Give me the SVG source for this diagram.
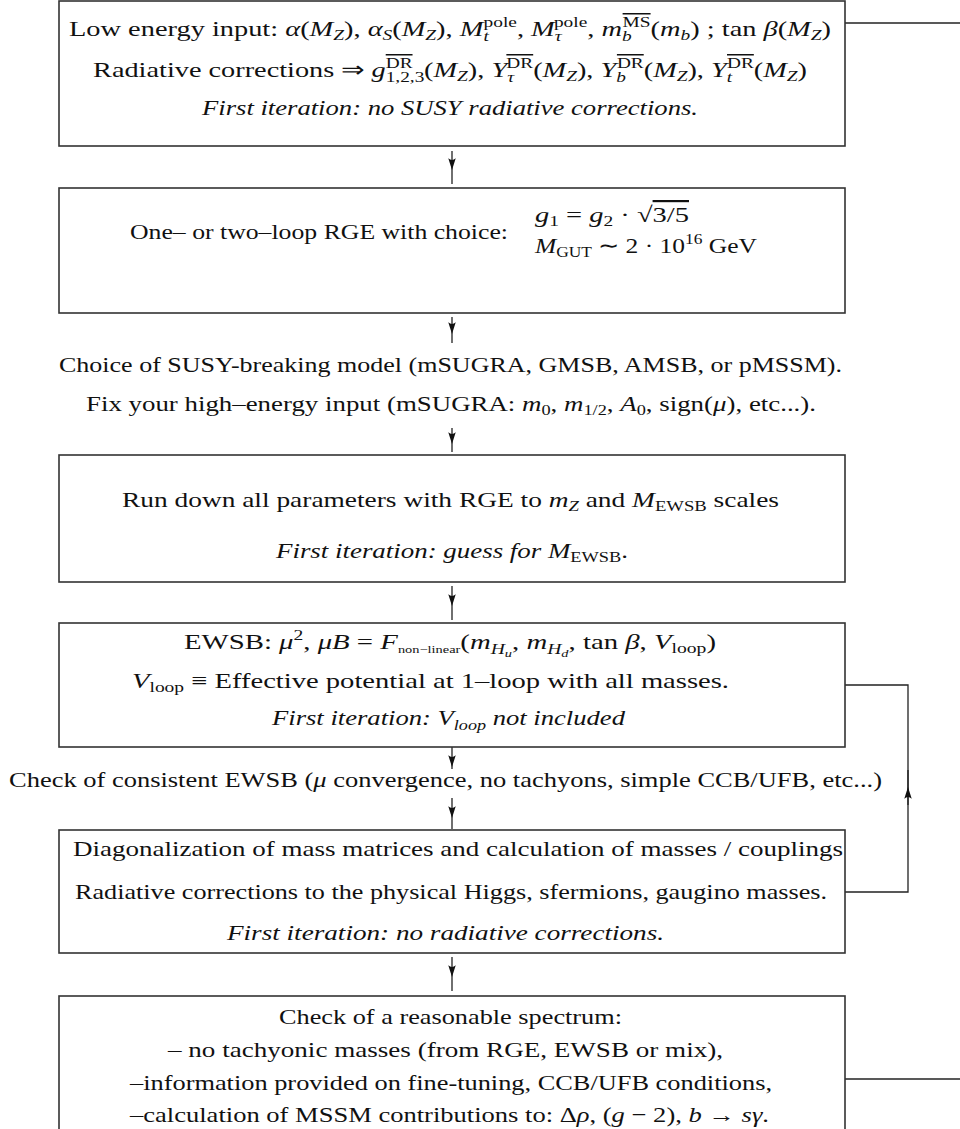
<svg xmlns="http://www.w3.org/2000/svg" width="960" height="1129" viewBox="0 0 960 1129">
<style>
.t{font-family:"Liberation Serif","Times New Roman",serif;font-size:22px;fill:#111}
.i{font-style:italic}
.s{font-size:15px}
.xs{font-size:11px}
.box{fill:#fff;stroke:#333;stroke-width:1.6}
.c{fill:none;stroke:#222;stroke-width:1.3}
.a{fill:none;stroke:#222;stroke-width:1.3;marker-mid:url(#ah)}
</style>
<defs>
<marker id="ah" markerUnits="userSpaceOnUse" markerWidth="14" markerHeight="10" viewBox="-11 -4 12 8" refX="0" refY="0" orient="auto">
<path d="M0,0 L-10,-3.2 Q-7,0 -10,3.2 Z" fill="#111"/>
</marker>
</defs>
<rect width="960" height="1129" fill="#fff"/>

<g id="connectors">
<path class="a" d="M452,151 V170 V184"/>
<path class="a" d="M452,317 V334 V343"/>
<path class="a" d="M452,428 V444 V452"/>
<path class="a" d="M452,586 V606 V620"/>
<path class="a" d="M452,747 V767 V769"/>
<path class="a" d="M452,798 V818 V829"/>
<path class="a" d="M452,957 V977 V991"/>
<path class="c" d="M845,23 H960"/>
<path class="c" d="M845,685 H908 V892 H845"/>
<path class="a" d="M908,805 V787 V770"/>
<path class="c" d="M845,1079 H960"/>
</g>

<g id="n1">
<rect class="box" x="59" y="1" width="786" height="145"/>
<text class="t" x="69" y="36" textLength="762" lengthAdjust="spacingAndGlyphs">Low energy input: <tspan class="i">α</tspan>(<tspan class="i">M</tspan><tspan class="i s" dy="4">Z</tspan><tspan dy="-4">), </tspan><tspan class="i">α</tspan><tspan class="i s" dy="4">S</tspan><tspan dy="-4">(</tspan><tspan class="i">M</tspan><tspan class="i s" dy="4">Z</tspan><tspan dy="-4">), </tspan><tspan class="i">M</tspan><tspan class="i s" dy="5">t</tspan><tspan class="s" dx="-4" dy="-14">pole</tspan><tspan dy="9">, </tspan><tspan class="i">M</tspan><tspan class="i s" dy="5">τ</tspan><tspan class="s" dx="-6" dy="-14">pole</tspan><tspan dy="9">, </tspan><tspan class="i">m</tspan><tspan class="i s" dy="5">b</tspan><tspan class="s" dx="-7" dy="-14" text-decoration="overline">MS</tspan><tspan dy="9">(</tspan><tspan class="i">m</tspan><tspan class="i s" dy="4">b</tspan><tspan dy="-4">) ; tan </tspan><tspan class="i">β</tspan>(<tspan class="i">M</tspan><tspan class="i s" dy="4">Z</tspan><tspan dy="-4">)</tspan></text>
<text class="t" x="93" y="77" textLength="714" lengthAdjust="spacingAndGlyphs">Radiative corrections ⇒ <tspan class="i">g</tspan><tspan class="s" dy="5">1,2,3</tspan><tspan class="s" dx="-30" dy="-14" text-decoration="overline">DR</tspan><tspan dx="9" dy="9">(</tspan><tspan class="i">M</tspan><tspan class="i s" dy="4">Z</tspan><tspan dy="-4">), </tspan><tspan class="i">Y</tspan><tspan class="i s" dy="5">τ</tspan><tspan class="s" dx="-6" dy="-14" text-decoration="overline">DR</tspan><tspan dy="9">(</tspan><tspan class="i">M</tspan><tspan class="i s" dy="4">Z</tspan><tspan dy="-4">), </tspan><tspan class="i">Y</tspan><tspan class="i s" dy="5">b</tspan><tspan class="s" dx="-7" dy="-14" text-decoration="overline">DR</tspan><tspan dy="9">(</tspan><tspan class="i">M</tspan><tspan class="i s" dy="4">Z</tspan><tspan dy="-4">), </tspan><tspan class="i">Y</tspan><tspan class="i s" dy="5">t</tspan><tspan class="s" dx="-4" dy="-14" text-decoration="overline">DR</tspan><tspan dy="9">(</tspan><tspan class="i">M</tspan><tspan class="i s" dy="4">Z</tspan><tspan dy="-4">)</tspan></text>
<text class="t i" x="202" y="115" textLength="496" lengthAdjust="spacingAndGlyphs">First iteration: no SUSY radiative corrections.</text>
</g>

<g id="n2">
<rect class="box" x="59" y="188" width="786" height="125"/>
<text class="t" x="130" y="239" textLength="378" lengthAdjust="spacingAndGlyphs">One– or two–loop RGE with choice:</text>
<text class="t" x="535" y="222" textLength="154" lengthAdjust="spacingAndGlyphs"><tspan class="i">g</tspan><tspan class="s" dy="4">1</tspan><tspan dy="-4"> = </tspan><tspan class="i">g</tspan><tspan class="s" dy="4">2</tspan><tspan dy="-4"> · √</tspan><tspan text-decoration="overline">3/5</tspan></text>
<text class="t" x="535" y="253" textLength="222" lengthAdjust="spacingAndGlyphs"><tspan class="i">M</tspan><tspan class="s" dy="4">GUT</tspan><tspan dy="-4"> ∼ 2 · 10</tspan><tspan class="s" dy="-9">16</tspan><tspan dy="9"> GeV</tspan></text>
</g>

<g id="n3">
<text class="t" x="59" y="372" textLength="783" lengthAdjust="spacingAndGlyphs">Choice of SUSY-breaking model (mSUGRA, GMSB, AMSB, or pMSSM).</text>
<text class="t" x="86" y="411" textLength="730" lengthAdjust="spacingAndGlyphs">Fix your high–energy input (mSUGRA: <tspan class="i">m</tspan><tspan class="s" dy="4">0</tspan><tspan dy="-4">, </tspan><tspan class="i">m</tspan><tspan class="s" dy="4">1/2</tspan><tspan dy="-4">, </tspan><tspan class="i">A</tspan><tspan class="s" dy="4">0</tspan><tspan dy="-4">, sign(</tspan><tspan class="i">μ</tspan>), etc...).</text>
</g>

<g id="n4">
<rect class="box" x="59" y="455" width="786" height="127"/>
<text class="t" x="122" y="507" textLength="657" lengthAdjust="spacingAndGlyphs">Run down all parameters with RGE to <tspan class="i">m</tspan><tspan class="i s" dy="4">Z</tspan><tspan dy="-4"> and </tspan><tspan class="i">M</tspan><tspan class="s" dy="4">EWSB</tspan><tspan dy="-4"> scales</tspan></text>
<text class="t" x="276" y="558" textLength="352" lengthAdjust="spacingAndGlyphs"><tspan class="i">First iteration: guess for M</tspan><tspan class="s" dy="4">EWSB</tspan><tspan dy="-4">.</tspan></text>
</g>

<g id="n5">
<rect class="box" x="59" y="623" width="786" height="124"/>
<text class="t" x="184" y="649" textLength="532" lengthAdjust="spacingAndGlyphs">EWSB: <tspan class="i">μ</tspan><tspan class="s" dy="-9">2</tspan><tspan dy="9">, </tspan><tspan class="i">μB</tspan> = <tspan class="i">F</tspan><tspan class="xs" dy="4">non−linear</tspan><tspan dy="-4">(</tspan><tspan class="i">m</tspan><tspan class="i s" dy="5">H</tspan><tspan class="i xs" dy="3">u</tspan><tspan dy="-8">, </tspan><tspan class="i">m</tspan><tspan class="i s" dy="5">H</tspan><tspan class="i xs" dy="3">d</tspan><tspan dy="-8">, tan </tspan><tspan class="i">β</tspan>, <tspan class="i">V</tspan><tspan class="s" dy="4">loop</tspan><tspan dy="-4">)</tspan></text>
<text class="t" x="132" y="688" textLength="597" lengthAdjust="spacingAndGlyphs"><tspan class="i">V</tspan><tspan class="s" dy="4">loop</tspan><tspan dy="-4"> ≡ Effective potential at 1–loop with all masses.</tspan></text>
<text class="t i" x="272" y="725" textLength="353" lengthAdjust="spacingAndGlyphs">First iteration: V<tspan class="s" dy="5">loop</tspan><tspan dy="-5"> not included</tspan></text>
</g>

<g id="n6">
<text class="t" x="9" y="787" textLength="873" lengthAdjust="spacingAndGlyphs">Check of consistent EWSB (<tspan class="i">μ</tspan> convergence, no tachyons, simple CCB/UFB, etc...)</text>
</g>

<g id="n7">
<rect class="box" x="59" y="830" width="786" height="123"/>
<text class="t" x="73" y="856" textLength="770" lengthAdjust="spacingAndGlyphs">Diagonalization of mass matrices and calculation of masses / couplings</text>
<text class="t" x="75" y="899" textLength="752" lengthAdjust="spacingAndGlyphs">Radiative corrections to the physical Higgs, sfermions, gaugino masses.</text>
<text class="t i" x="227" y="940" textLength="437" lengthAdjust="spacingAndGlyphs">First iteration: no radiative corrections.</text>
</g>

<g id="n8">
<rect class="box" x="59" y="996" width="786" height="150"/>
<text class="t" x="279" y="1024" textLength="343" lengthAdjust="spacingAndGlyphs">Check of a reasonable spectrum:</text>
<text class="t" x="168" y="1057" textLength="555" lengthAdjust="spacingAndGlyphs">– no tachyonic masses (from RGE, EWSB or mix),</text>
<text class="t" x="130" y="1090" textLength="642" lengthAdjust="spacingAndGlyphs">–information provided on fine-tuning, CCB/UFB conditions,</text>
<text class="t" x="130" y="1122" textLength="639" lengthAdjust="spacingAndGlyphs">–calculation of MSSM contributions to: Δ<tspan class="i">ρ</tspan>, (<tspan class="i">g</tspan> − 2), <tspan class="i">b</tspan> → <tspan class="i">sγ</tspan>.</text>
</g>
</svg>
